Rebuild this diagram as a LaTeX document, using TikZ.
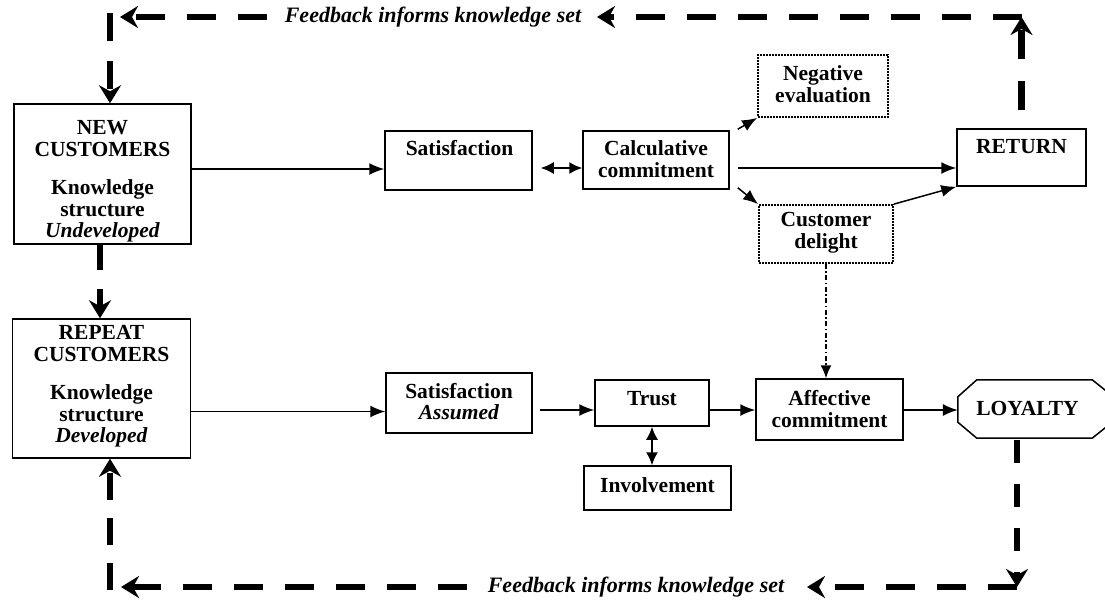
\documentclass[tikz,border=0pt]{standalone}
\usepackage{fontspec}
\setmainfont{Liberation Serif}
\usetikzlibrary{arrows.meta,calc}
\begin{document}
\begin{tikzpicture}[x=1pt,y=-1pt,
  box/.style={draw, line width=1.5pt, inner sep=0pt, rectangle},
  dbox/.style={draw, line width=1.8pt, dash pattern=on 1.6pt off 1.4pt, inner sep=0pt, rectangle},
  lbl/.style={inner sep=0pt, align=center, font=\fontsize{21.5}{22}\selectfont\bfseries},
  fbl/.style={inner sep=0pt, font=\fontsize{22}{24}\selectfont\bfseries\itshape},
  con/.style={line width=1.5pt, -{Latex[length=15pt,width=12pt]}},
  dcon/.style={line width=1.5pt, {Latex[length=13pt,width=12pt]}-{Latex[length=13pt,width=12pt]}},
  ddcon/.style={line width=1.5pt, dash pattern=on 5pt off 2.5pt on 1.5pt off 2.5pt, -{Latex[length=13pt,width=11pt]}},
  fb/.style={line width=6.5pt, dash pattern=on 29pt off 22pt, -{Stealth[length=18pt,width=22pt,inset=6pt]}},
]
\useasboundingbox (0,0) rectangle (1105,600);

% boxes
\node[box, minimum width=177pt, minimum height=140pt] (newc) at (102.5,174) {};
\node[box, minimum width=178pt, minimum height=139pt] (repc) at (101.5,388.5) {};
\node[box, minimum width=147pt, minimum height=59pt] (sat1) at (458.5,160.5) {};
\node[box, minimum width=146pt, minimum height=58pt] (calc) at (656,160) {};
\node[dbox, minimum width=130pt, minimum height=62pt] (neg) at (823,86) {};
\node[box, minimum width=129pt, minimum height=57pt] (ret) at (1021.5,157.5) {};
\node[dbox, minimum width=134pt, minimum height=58pt] (del) at (826,234) {};
\node[box, minimum width=146pt, minimum height=60pt] (sat2) at (459,403) {};
\node[box, minimum width=114pt, minimum height=46pt] (trust) at (652,403) {};
\node[box, minimum width=147pt, minimum height=61pt] (aff) at (829.5,409.5) {};
\node[box, minimum width=147pt, minimum height=44pt] (inv) at (657.5,488) {};
\node[inner sep=0pt, minimum width=154pt, minimum height=58pt] (loy) at (1035,409) {};
\draw[line width=1.5pt]
  ($(loy.north west)+(19,0)$) -- ($(loy.north east)+(-20,0)$) -- ($(loy.north east)+(0,16)$)
  -- ($(loy.south east)+(0,-16)$) -- ($(loy.south east)+(-20,0)$) -- ($(loy.south west)+(19,0)$)
  -- ($(loy.south west)+(0,-16)$) -- ($(loy.north west)+(0,17)$) -- cycle;

% texts
\node[lbl] (newt) at (102.5,181) {NEW\\CUSTOMERS\\[16pt]Knowledge\\structure\\[-1pt]\textit{Undeveloped}};
\node[lbl] (rept) at (101.5,386.5) {REPEAT\\CUSTOMERS\\[16pt]Knowledge\\structure\\[-1pt]\textit{Developed}};
\node[lbl] (sat1t) at (459.5,148) {Satisfaction};
\node[lbl] (calct) at (656,159) {Calculative\\commitment};
\node[lbl] (negt) at (823,84) {Negative\\evaluation};
\node[lbl] (rett) at (1021.5,147) {RETURN};
\node[lbl] (delt) at (826,232.5) {Customer\\delight};
\node[lbl] (sat2t) at (459,402) {Satisfaction\\[-1pt]\textit{Assumed}};
\node[lbl] (trustt) at (652,399) {Trust};
\node[lbl] (afft) at (829.5,409) {Affective\\commitment};
\node[lbl] (loyt) at (1027.5,408) {LOYALTY};
\node[lbl] (invt) at (657.5,485) {Involvement};
\node[fbl] (fbtop) at (433,17) {Feedback informs knowledge set};
\node[fbl] (fbbot) at (636,587) {Feedback informs knowledge set};

% upper row connectors
\coordinate (n1) at ([yshift=5pt]newc.east);
\draw[con] (n1) -- (n1 -| sat1.west);
\coordinate (c1) at ([yshift=-8pt]calc.west);
\draw[dcon, shorten <=8pt] (c1 -| sat1.east) -- (c1);
\coordinate (c2) at ([yshift=-8pt]calc.east);
\draw[con, shorten <=8pt] (c2) -- (c2 -| ret.west);
\draw[con] ([xshift=8pt,yshift=1pt]calc.north east) -- (neg.south west);
\draw[con] ([xshift=8pt,yshift=2pt]calc.south east) -- (del.north west);
\draw[con] (del.north east) -- (ret.south west);
\draw[ddcon] (del.south) -- (del.south |- aff.north);

% lower row connectors
\coordinate (r1) at ([yshift=-23pt]repc.east);
\draw[con] (r1) -- (r1 -| sat2.west);
\coordinate (r2) at ([yshift=-7pt]sat2.east);
\draw[con, shorten <=7pt] (r2) -- (r2 -| trust.west);
\draw[con] (r2 -| trust.east) -- (r2 -| aff.west);
\draw[con] (r2 -| aff.east) -- (r2 -| loy.west);
\draw[dcon] (trust.south) -- (trust.south |- inv.north);

% feedback loops (top)
\coordinate (tr) at (1022,17);
\coordinate (topa) at (597,17);
\coordinate (tla) at (120,17);
\coordinate (tlc) at (110,13);
\draw[fb, shorten <=18pt] (ret.north) -- (ret.north |- tr);
\draw[fb] (tr) -- (topa);
\draw[fb] ([xshift=-18pt]fbtop.west) -- (tla);
\draw[fb, dash pattern=on 28pt off 20pt] (tlc) -- (tlc |- newc.north);

% new -> repeat
\coordinate (nb) at ([xshift=-2.5pt]newc.south);
\draw[fb, dash pattern=on 25pt off 19pt] (nb) -- (nb |- repc.north);

% feedback loops (bottom)
\coordinate (br) at (1017,587);
\coordinate (bra) at (807,587);
\coordinate (bla) at (121,587);
\coordinate (blc) at (110,590);
\draw[fb, dash pattern=on 23pt off 21pt, shorten <=2pt] (loy.south -| br) -- (br);
\draw[fb] (br) -- (bra);
\draw[fb] ([xshift=-21pt]fbbot.west) -- (bla);
\draw[fb, dash pattern=on 27pt off 18pt] (blc) -- (blc |- repc.south);
\end{tikzpicture}
\end{document}
